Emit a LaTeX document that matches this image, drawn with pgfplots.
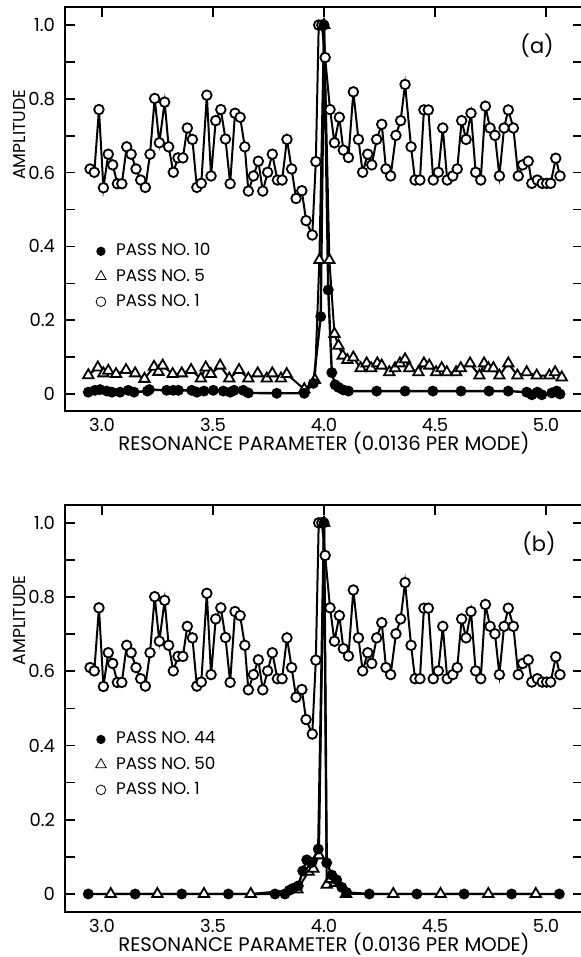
\documentclass[border=0pt]{standalone}
\usepackage{fontspec}
\setmainfont{Poppins}
\usepackage{pgfplots}
\pgfplotsset{compat=1.18}

% pass 1 is the same in both panels
\pgfplotstableread{
x y
2.946 0.610
2.965 0.601
2.986 0.771
3.006 0.559
3.028 0.650
3.048 0.621
3.069 0.570
3.089 0.570
3.111 0.670
3.131 0.650
3.153 0.610
3.174 0.580
3.195 0.560
3.216 0.650
3.237 0.801
3.258 0.681
3.282 0.791
3.300 0.670
3.321 0.601
3.342 0.640
3.364 0.640
3.384 0.721
3.407 0.690
3.427 0.560
3.447 0.571
3.472 0.810
3.491 0.591
3.512 0.741
3.535 0.771
3.556 0.691
3.577 0.570
3.599 0.761
3.622 0.750
3.643 0.670
3.659 0.550
3.682 0.591
3.704 0.631
3.724 0.550
3.746 0.601
3.767 0.650
3.790 0.580
3.811 0.580
3.833 0.690
3.854 0.610
3.874 0.530
3.900 0.551
3.919 0.470
3.947 0.431
3.963 0.630
3.976 1.000
3.990 1.000
4.005 0.912
4.027 0.771
4.047 0.681
4.069 0.750
4.087 0.661
4.110 0.641
4.132 0.819
4.155 0.690
4.174 0.601
4.197 0.650
4.215 0.621
4.237 0.690
4.260 0.731
4.279 0.610
4.300 0.591
4.324 0.701
4.345 0.741
4.365 0.839
4.392 0.670
4.410 0.580
4.432 0.580
4.450 0.770
4.470 0.770
4.492 0.580
4.515 0.601
4.535 0.721
4.555 0.580
4.580 0.591
4.600 0.610
4.620 0.741
4.640 0.690
4.662 0.761
4.683 0.601
4.706 0.580
4.727 0.780
4.748 0.721
4.770 0.701
4.790 0.591
4.811 0.721
4.830 0.770
4.853 0.721
4.875 0.591
4.895 0.621
4.920 0.631
4.936 0.571
4.961 0.580
4.983 0.571
5.003 0.571
5.021 0.571
5.044 0.639
5.063 0.591
}\passone

\pgfplotstableread{
x y
2.938 0.051
2.981 0.072
3.006 0.056
3.028 0.063
3.063 0.054
3.108 0.065
3.149 0.056
3.191 0.041
3.234 0.074
3.254 0.060
3.273 0.077
3.318 0.054
3.359 0.056
3.401 0.065
3.445 0.042
3.467 0.072
3.490 0.054
3.532 0.077
3.573 0.042
3.617 0.065
3.659 0.042
3.701 0.056
3.742 0.042
3.767 0.056
3.806 0.042
3.832 0.054
3.911 0.013
3.959 0.038
3.979 0.363
4.000 1.000
4.024 0.363
4.047 0.163
4.065 0.131
4.084 0.104
4.105 0.092
4.132 0.099
4.165 0.070
4.192 0.083
4.212 0.070
4.240 0.083
4.260 0.077
4.294 0.059
4.320 0.070
4.342 0.083
4.365 0.094
4.384 0.070
4.425 0.059
4.450 0.083
4.474 0.077
4.505 0.059
4.530 0.070
4.553 0.059
4.595 0.059
4.616 0.070
4.658 0.083
4.700 0.050
4.721 0.083
4.740 0.070
4.763 0.070
4.790 0.050
4.830 0.083
4.871 0.050
4.913 0.059
4.958 0.050
5.015 0.050
5.041 0.059
5.071 0.045
}\passfive

\pgfplotstableread{
x y
2.938 0.005
2.968 0.010
2.991 0.012
3.021 0.008
3.044 0.005
3.081 0.005
3.118 0.010
3.144 0.005
3.204 0.008
3.213 0.012
3.291 0.010
3.321 0.010
3.344 0.010
3.404 0.010
3.427 0.005
3.459 0.008
3.501 0.010
3.546 0.008
3.577 0.005
3.595 0.010
3.636 0.010
3.659 0.003
3.787 0.002
3.911 0.002
3.952 0.029
3.985 0.210
4.000 1.000
4.019 0.282
4.035 0.058
4.050 0.025
4.065 0.018
4.087 0.011
4.110 0.008
4.237 0.008
4.365 0.008
4.490 0.008
4.617 0.008
4.743 0.008
4.830 0.008
4.913 0.005
4.936 -0.002
4.961 0.005
4.981 -0.002
5.026 0.003
5.048 0.008
5.063 0.000
}\passten

\pgfplotstableread{
x y
2.938 0
3.149 0
3.359 0
3.569 0
3.779 0
3.824 0
3.844 0.010
3.860 0.015
3.884 0.022
3.904 0.062
3.922 0.092
3.945 0.085
3.974 0.121
4.000 1.000
4.012 0.084
4.035 0.051
4.057 0.038
4.080 0.018
4.102 0.004
4.204 0
4.418 0
4.631 0
4.845 0
5.060 0
}\passfortyfour

\pgfplotstableread{
x y
3.039 0
3.249 0
3.459 0
3.670 0
3.880 0.012
3.930 0.060
3.952 0.068
3.977 0.104
4.000 1.000
4.012 0.025
4.030 0.040
4.050 0.030
4.099 0
4.312 0
4.525 0
4.740 0
4.954 0
}\passfifty

\pgfplotsset{
  panel/.style={
    scale only axis, width=259pt,
    xmin=2.833, xmax=5.1667,
    xtick={3,3.5,4,4.5,5}, xticklabels={3.0,3.5,4.0,4.5,5.0},
    xtick pos=right, xticklabel pos=left,
    ytick={0,0.2,0.4,0.6,0.8,1}, yticklabels={0,0.2,0.4,0.6,0.8,1.0},
    minor ytick={0.1,0.3,0.5,0.7,0.9},
    tick align=inside, major tick length=5pt, minor tick length=5pt,
    every tick/.style={black, line width=0.8pt},
    axis line style={line width=0.8pt},
    tick label style={font=\fontsize{9}{10}\selectfont},
    yticklabel style={xshift=-1.5pt},
    xlabel={RESONANCE PARAMETER (0.0136 PER MODE)},
    xlabel style={font=\fontsize{9.8}{11}\selectfont, yshift=6.5pt},
    ylabel={AMPLITUDE},
    ylabel style={font=\fontsize{8.6}{10}\selectfont, anchor=center},
    legend style={draw=none, fill=none, anchor=north west,
      font=\fontsize{8.4}{10}\selectfont, row sep=1pt},
    legend cell align=left,
  },
  p1/.style={black, line width=1pt, mark=*, mark size=2.4pt,
    mark options={fill=white, line width=0.9pt}},
  p5/.style={black, line width=1pt, mark=triangle*, mark size=3pt,
    mark options={fill=white, line width=0.9pt}},
  p10/.style={black, line width=1.2pt, mark=*, mark size=2.1pt,
    mark options={fill=black}},
}

\begin{document}
\begin{tikzpicture}
\begin{axis}[panel, at={(32.5pt,273pt)}, anchor=south west, height=202pt,
    ymin=-0.046, ymax=1.049, legend style={at={(0.047,0.435)}},
    ylabel style={at={(axis description cs:-0.088,0.684)}}]
  \addlegendimage{only marks, mark=*, mark size=2.1pt, black}
  \addlegendentry{\hspace{3pt}PASS NO. 10}
  \addlegendimage{only marks, mark=triangle*, mark size=3pt, black, mark options={fill=white}}
  \addlegendentry{\hspace{3pt}PASS NO. 5}
  \addlegendimage{only marks, mark=*, mark size=2.4pt, black, mark options={fill=white}}
  \addlegendentry{\hspace{3pt}PASS NO. 1}
  \addplot[p1, forget plot] table[x=x, y=y] {\passone};
  \addplot[p5, forget plot] table[x=x, y=y] {\passfive};
  \addplot[p10, forget plot] table[x=x, y=y] {\passten};
  \addplot[forget plot, only marks, mark=triangle*, mark size=3.4pt, black] coordinates {(4.0,1.0)};
  \node[font=\fontsize{10.5}{12}\selectfont] at (axis cs:4.96,0.943) {(a)};
\end{axis}
\begin{axis}[panel, at={(32.5pt,22.5pt)}, anchor=south west, height=203.5pt,
    ymin=-0.0485, ymax=1.048, legend style={at={(0.047,0.463)}},
    ylabel style={at={(axis description cs:-0.088,0.717)}}]
  \addlegendimage{only marks, mark=*, mark size=2.1pt, black}
  \addlegendentry{\hspace{3pt}PASS NO. 44}
  \addlegendimage{only marks, mark=triangle*, mark size=3pt, black, mark options={fill=white}}
  \addlegendentry{\hspace{3pt}PASS NO. 50}
  \addlegendimage{only marks, mark=*, mark size=2.4pt, black, mark options={fill=white}}
  \addlegendentry{\hspace{3pt}PASS NO. 1}
  \addplot[p1, forget plot] table[x=x, y=y] {\passone};
  \addplot[p5, forget plot] table[x=x, y=y] {\passfifty};
  \addplot[p10, forget plot] table[x=x, y=y] {\passfortyfour};
  \addplot[forget plot, only marks, mark=triangle*, mark size=3.4pt, black] coordinates {(4.0,1.0)};
  \node[font=\fontsize{10.5}{12}\selectfont] at (axis cs:4.968,0.943) {(b)};
\end{axis}
\pgfresetboundingbox
\useasboundingbox (0pt,0pt) rectangle (290.5pt,478.5pt);
\end{tikzpicture}
\end{document}
